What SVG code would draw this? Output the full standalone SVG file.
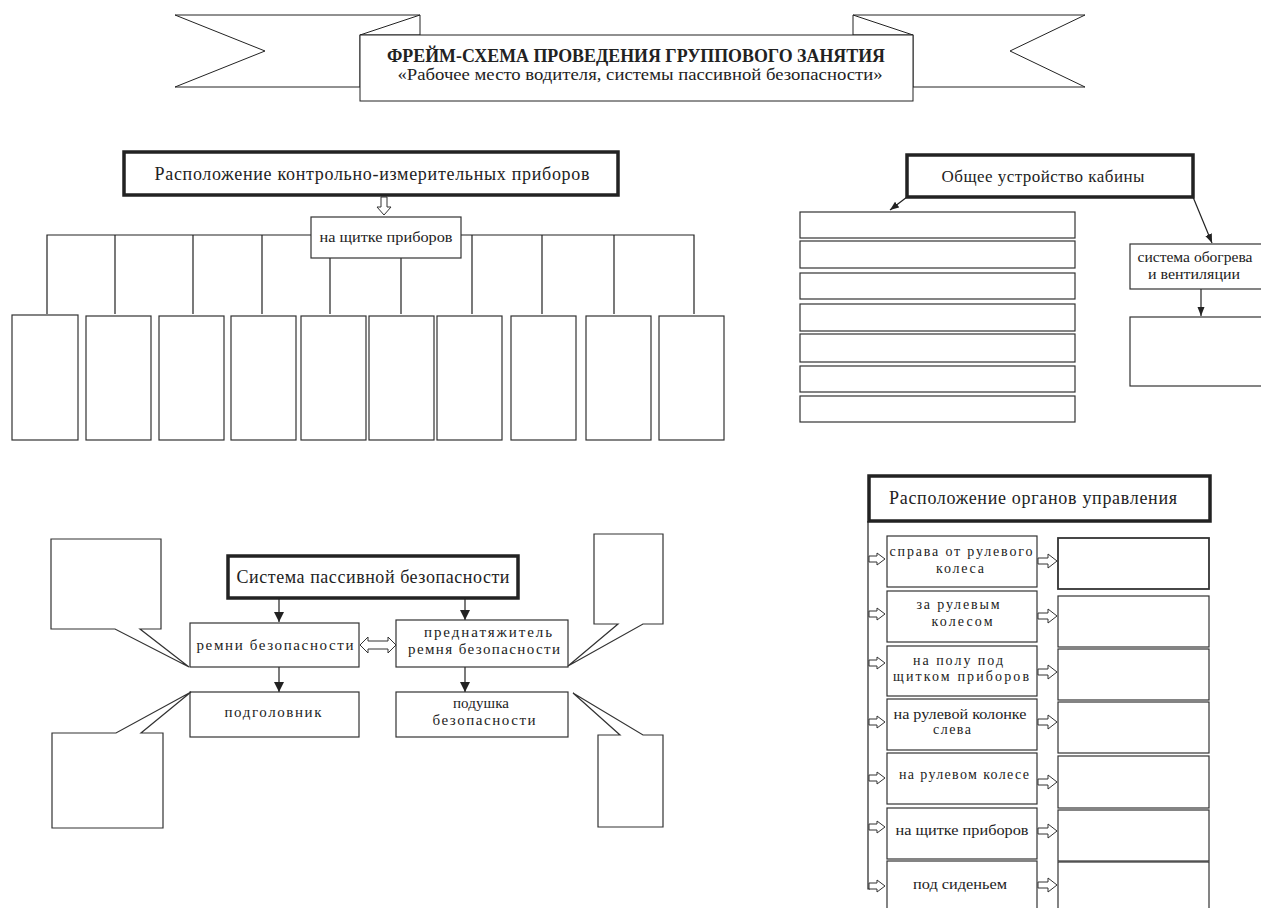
<svg xmlns="http://www.w3.org/2000/svg" width="1261" height="908" viewBox="0 0 1261 908">
<defs>
<style>
.box{fill:#fff;stroke:#333;stroke-width:1.2}
.hdr{fill:#fff;stroke:#222;stroke-width:3.5}
.ln{fill:none;stroke:#222;stroke-width:1.2}
.ha{fill:#fff;stroke:#333;stroke-width:1}
.rib{fill:#fff;stroke:#222;stroke-width:1}
text{font-family:"Liberation Serif","DejaVu Serif",serif;fill:#222}
.t18{font-size:18px}
.t17{font-size:17px}
.t15{font-size:15px}
.t14{font-size:14px}
.t13{font-size:13px}
.mid{text-anchor:middle}
</style>
<marker id="ah" markerUnits="userSpaceOnUse" markerWidth="10" markerHeight="12" refX="10" refY="5" orient="auto">
<path d="M0,0 L10,5 L0,10 z" fill="#222"/>
</marker>
<marker id="as" markerUnits="userSpaceOnUse" markerWidth="9" markerHeight="8" refX="9" refY="3.5" orient="auto">
<path d="M0,0 L9,3.5 L0,7 z" fill="#222"/>
</marker>
</defs>

<g id="banner">
<polygon class="rib" points="175,15 420,15 420,35 360,35 360,87 175,87 265,51"/>
<line class="rib" x1="360" y1="35" x2="420" y2="15"/>
<polygon class="rib" points="853,15 1085,15 1010,51 1085,87 913,87 913,35 853,35"/>
<line class="rib" x1="853" y1="15" x2="913" y2="35"/>
<rect class="rib" x="360" y="35" width="553" height="66"/>
<text x="636" y="62" class="mid" style="font-size:18px;font-weight:bold" textLength="498" lengthAdjust="spacingAndGlyphs">ФРЕЙМ-СХЕМА ПРОВЕДЕНИЯ ГРУППОВОГО ЗАНЯТИЯ</text>
<text x="640" y="80" class="mid" style="font-size:16px" textLength="485" lengthAdjust="spacingAndGlyphs">«Рабочее место водителя, системы пассивной безопасности»</text>
</g>

<g id="connectors">
<path class="ln" d="M47,314 V235 H694 V314 M115,235 V314 M193,235 V314 M262,235 V314 M330,235 V314 M401,235 V314 M472,235 V314 M542,235 V314 M614,235 V314"/>
<polygon class="ha" points="381,197 387,197 387,207 391,207 384,215 377,207 381,207"/>
<line class="ln" x1="907" y1="197" x2="890" y2="210" marker-end="url(#as)"/>
<line class="ln" x1="1193" y1="197" x2="1212" y2="243" marker-end="url(#as)"/>
<line class="ln" x1="1201" y1="289" x2="1201" y2="316" marker-end="url(#as)"/>
<line class="ln" x1="279" y1="598" x2="279" y2="622" marker-end="url(#ah)"/>
<line class="ln" x1="279" y1="667" x2="279" y2="692" marker-end="url(#ah)"/>
<line class="ln" x1="465" y1="598" x2="465" y2="620" marker-end="url(#ah)"/>
<line class="ln" x1="465" y1="667" x2="465" y2="692" marker-end="url(#ah)"/>
<polygon class="ha" points="360,645 368,637 368,641 388,641 388,637 396,645 388,653 388,649 368,649 368,653"/>
<path class="ln" d="M868,521 V889 H870"/>
<g id="arrows-left">
<polygon class="ha" points="869,556 877,556 877,553 885,559 877,565 877,562 869,562"/>
<polygon class="ha" points="869,611 877,611 877,608 885,614 877,620 877,617 869,617"/>
<polygon class="ha" points="869,660 877,660 877,657 885,663 877,669 877,666 869,666"/>
<polygon class="ha" points="869,719 877,719 877,716 885,722 877,728 877,725 869,725"/>
<polygon class="ha" points="869,775 877,775 877,772 885,778 877,784 877,781 869,781"/>
<polygon class="ha" points="869,824 877,824 877,821 885,827 877,833 877,830 869,830"/>
<polygon class="ha" points="869,883 877,883 877,880 885,886 877,892 877,889 869,889"/>
</g>
<g id="arrows-right">
<polygon class="ha" points="1038,558 1048,558 1048,554 1057,561 1048,568 1048,564 1038,564"/>
<polygon class="ha" points="1038,613 1048,613 1048,609 1057,616 1048,623 1048,619 1038,619"/>
<polygon class="ha" points="1038,669 1048,669 1048,665 1057,672 1048,679 1048,675 1038,675"/>
<polygon class="ha" points="1038,719 1048,719 1048,715 1057,722 1048,729 1048,725 1038,725"/>
<polygon class="ha" points="1038,779 1048,779 1048,775 1057,782 1048,789 1048,785 1038,785"/>
<polygon class="ha" points="1038,828 1048,828 1048,824 1057,831 1048,838 1048,834 1038,834"/>
<polygon class="ha" points="1038,882 1048,882 1048,878 1057,885 1048,892 1048,888 1038,888"/>
</g>
</g>

<g id="kip-header"><rect class="hdr" x="124" y="152" width="494" height="43"/>
<text x="372" y="180" class="t18 mid" textLength="435">Расположение контрольно-измерительных приборов</text></g>
<g id="kip-panel"><rect class="box" x="311" y="217" width="150" height="41"/>
<text x="386" y="242" class="t14 mid" textLength="133" lengthAdjust="spacingAndGlyphs">на щитке приборов</text></g>
<g id="kip-boxes">
<rect class="box" x="12" y="315" width="66" height="125"/>
<rect class="box" x="86" y="316" width="65" height="124"/>
<rect class="box" x="159" y="316" width="65" height="124"/>
<rect class="box" x="231" y="316" width="65" height="124"/>
<rect class="box" x="301" y="316" width="65" height="124"/>
<rect class="box" x="369" y="316" width="65" height="124"/>
<rect class="box" x="437" y="316" width="65" height="124"/>
<rect class="box" x="511" y="316" width="65" height="124"/>
<rect class="box" x="586" y="316" width="65" height="124"/>
<rect class="box" x="659" y="316" width="65" height="124"/>
</g>

<g id="cab-header"><rect class="hdr" x="907" y="155" width="286" height="42"/>
<text x="1043" y="182" class="t17 mid" textLength="203">Общее устройство кабины</text></g>
<g id="cab-rows">
<rect class="box" x="800" y="212" width="275" height="26"/>
<rect class="box" x="800" y="241" width="275" height="27"/>
<rect class="box" x="800" y="273" width="275" height="26"/>
<rect class="box" x="800" y="304" width="275" height="27"/>
<rect class="box" x="800" y="334" width="275" height="28"/>
<rect class="box" x="800" y="366" width="275" height="26"/>
<rect class="box" x="800" y="396" width="275" height="26"/>
</g>
<g id="cab-heat"><rect class="box" x="1130" y="244" width="135" height="45"/>
<text x="1195" y="262" class="t14 mid" textLength="115" lengthAdjust="spacingAndGlyphs">система обогрева</text>
<text x="1194" y="279" class="t14 mid" textLength="92" lengthAdjust="spacingAndGlyphs">и вентиляции</text></g>
<g id="cab-heat-box"><rect class="box" x="1130" y="317" width="135" height="69"/></g>

<g id="sps-header"><rect class="hdr" x="228" y="556" width="290" height="42"/>
<text x="373" y="583" class="t18 mid" textLength="273">Система пассивной безопасности</text></g>
<g id="belts"><rect class="box" x="190" y="623" width="169" height="44"/>
<text x="275" y="650" class="t15 mid" textLength="157">ремни безопасности</text></g>
<g id="pretensioner"><rect class="box" x="396" y="620" width="172" height="47"/>
<text x="488" y="637" class="t15 mid" textLength="128">преднатяжитель</text>
<text x="484" y="654" class="t15 mid" textLength="152">ремня безопасности</text></g>
<g id="headrest"><rect class="box" x="190" y="692" width="169" height="45"/>
<text x="273" y="717" class="t15 mid" textLength="97">подголовник</text></g>
<g id="airbag"><rect class="box" x="396" y="692" width="172" height="45"/>
<text x="481" y="708" class="t15 mid" textLength="56">подушка</text>
<text x="484" y="725" class="t15 mid" textLength="103">безопасности</text></g>
<g id="callout-tl"><polygon class="box" points="51,539 161,539 161,629 140,629 189,667 115,629 51,629"/></g>
<g id="callout-bl"><polygon class="box" points="52,733 116,733 191,692 141,733 163,733 163,828 52,828"/></g>
<g id="callout-tr"><polygon class="box" points="594,534 663,534 663,624 643,624 568,666 618,624 594,624"/></g>
<g id="callout-br"><polygon class="box" points="598,735 620,735 573,693 643,735 663,735 663,827 598,827"/></g>

<g id="ctrl-header"><rect class="hdr" x="869" y="476" width="341" height="45"/>
<text x="1033" y="504" class="t18 mid" textLength="288">Расположение органов управления</text></g>
<g id="ctrl-rows">
<rect class="box" x="887" y="536" width="150" height="51"/>
<text x="961" y="556" class="t14 mid" textLength="143">справа от рулевого</text>
<text x="960" y="573" class="t14 mid" textLength="48">колеса</text>
<rect class="box" x="887" y="591" width="150" height="51"/>
<text x="958" y="609" class="t14 mid" textLength="83">за рулевым</text>
<text x="962" y="626" class="t14 mid" textLength="61">колесом</text>
<rect class="box" x="887" y="646" width="150" height="50"/>
<text x="958" y="665" class="t14 mid" textLength="90">на полу под</text>
<text x="961" y="681" class="t14 mid" textLength="136">щитком приборов</text>
<rect class="box" x="887" y="699" width="150" height="51"/>
<text x="960" y="719" class="t14 mid" textLength="133" lengthAdjust="spacingAndGlyphs">на рулевой колонке</text>
<text x="952" y="734" class="t14 mid" textLength="38">слева</text>
<rect class="box" x="887" y="753" width="150" height="51"/>
<text x="964" y="779" class="t14 mid" textLength="130">на рулевом колесе</text>
<rect class="box" x="887" y="808" width="150" height="51"/>
<text x="962" y="835" class="t14 mid" textLength="133" lengthAdjust="spacingAndGlyphs">на щитке приборов</text>
<rect class="box" x="887" y="861" width="150" height="60"/>
<text x="960" y="889" class="t14 mid" textLength="94" lengthAdjust="spacingAndGlyphs">под сиденьем</text>
</g>
<g id="ctrl-answers">
<rect class="box" x="1058" y="538" width="151" height="51" style="stroke-width:1.8"/>
<rect class="box" x="1058" y="596" width="151" height="51"/>
<rect class="box" x="1058" y="649" width="151" height="51"/>
<rect class="box" x="1058" y="702" width="151" height="51"/>
<rect class="box" x="1058" y="756" width="151" height="52"/>
<rect class="box" x="1058" y="810" width="151" height="51"/>
<rect class="box" x="1058" y="862" width="151" height="60"/>
</g>
</svg>
